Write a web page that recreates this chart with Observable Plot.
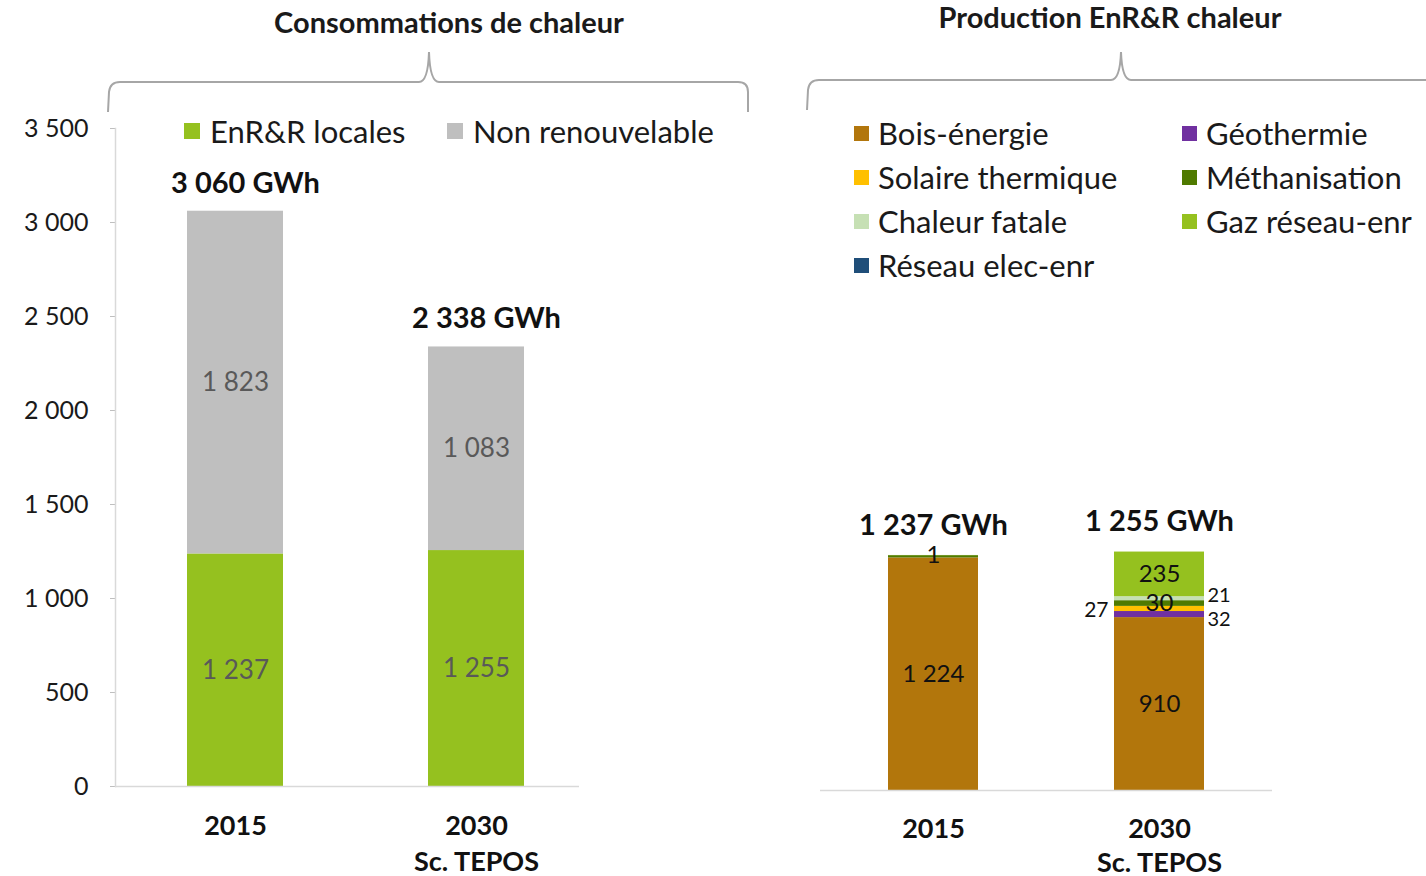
<!DOCTYPE html>
<html><head><meta charset="utf-8">
<script src="https://cdn.jsdelivr.net/npm/d3@7"></script>
<script src="https://cdn.jsdelivr.net/npm/@observablehq/plot@0.6"></script>
<style>
body{margin:0;background:#fff;width:1426px;height:876px;overflow:hidden;position:relative;font-family:Lato,"Open Sans",sans-serif;color:#1a1a1a}
.abs{position:absolute}
.title{font-weight:bold;font-size:29px;white-space:nowrap;transform:translateX(-50%)}
.leg{position:absolute;font-size:31px;white-space:nowrap;display:flex;align-items:center;line-height:34px}
.sw{display:inline-block;width:16px;height:16px;margin-right:10px}
</style></head><body>
<div id="left" class="abs" style="left:0;top:0"></div>
<div id="right" class="abs" style="left:800px;top:0"></div>
<svg class="abs" style="left:0;top:0" width="1426" height="876">
  <path d="M108,112 L109,92 Q110,82 120,82 L419,82 Q428,82 429,52 Q430,82 439,82 L738,82 Q748,82 748,92 L748,112" fill="none" stroke="#a6a6a6" stroke-width="2"/>
  <path d="M807,110 L808,90 Q809,80 819,80 L1111,80 Q1120,80 1121,52 Q1122,80 1131,80 L1430,80" fill="none" stroke="#a6a6a6" stroke-width="2"/>
</svg>
<div class="abs title" style="left:449px;top:4px">Consommations de chaleur</div>
<div class="abs title" style="left:1110px;top:-1px">Production EnR&amp;R chaleur</div>
<div id="legL"></div>
<div id="legR"></div>
<script>
// ---- data ----
const years = ["2015", "2030"];
const yearLabels = ["2015", "2030\nSc. TEPOS"];
const consoSeries = ["EnR&R locales", "Non renouvelable"];
const consoColors = ["#95c11f", "#bfbfbf"];
const consoEnr = [1237, 1255];
const consoNonRen = [1823, 1083];
const consoTotals = [3060, 2338];
const yTicks = [0, 500, 1000, 1500, 2000, 2500, 3000, 3500];

const prodSeries = ["Bois-énergie", "Géothermie", "Solaire thermique", "Méthanisation", "Chaleur fatale", "Gaz réseau-enr", "Réseau elec-enr"];
const prodColors = ["#b2760c", "#7030a0", "#ffc000", "#4f7a00", "#c6e0b4", "#95c11f", "#1f4e79"];
const prod2015 = [1224, 0, 0, 12, 0, 1, 0];
const prod2030 = [910, 32, 27, 30, 21, 235, 0];
const prodTotals = [1237, 1255];
// label placement per segment: c = inside, l = left of bar, r = right of bar (rb = right, nudged down), "" = none
const prodLabelPos2015 = ["c", "", "", "", "", "c", ""];
const prodLabelPos2030 = ["c", "rb", "l", "c", "r", "c", ""];
// legend order (two columns, Excel style)
const prodLegendCols = [["Bois-énergie", "Solaire thermique", "Chaleur fatale", "Réseau elec-enr"], ["Géothermie", "Méthanisation", "Gaz réseau-enr"]];

const loc = d3.formatLocale({decimal: ",", thousands: " ", grouping: [3], currency: ["", " €"]});
const fmt = loc.format(",d");
const FONT = "Lato, 'Open Sans', sans-serif";

// ---- left chart ----
const consoData = years.flatMap((yr, i) => [
  {year: yr, series: consoSeries[0], value: consoEnr[i]},
  {year: yr, series: consoSeries[1], value: consoNonRen[i]}
]);
const consoTot = years.map((yr, i) => ({year: yr, total: consoTotals[i]}));

const left = Plot.plot({
  width: 600, height: 876,
  marginTop: 128, marginBottom: 90, marginLeft: 115, marginRight: 21,
  style: {fontFamily: FONT, background: "transparent", overflow: "visible"},
  x: {domain: years, paddingInner: 0.6, paddingOuter: 0.2587, align: 0.572, axis: null},
  y: {domain: [0, 3500], axis: null},
  color: {domain: consoSeries, range: consoColors},
  marks: [
    Plot.axisY({ticks: yTicks, tickFormat: fmt, tickSize: 5, tickPadding: 22, fontSize: 25, stroke: "#bfbfbf", fill: "#1a1a1a", label: null}),
    Plot.frame({anchor: "left", stroke: "#d9d9d9", strokeWidth: 1.5}),
    Plot.barY(consoData, {x: "year", y: "value", fill: "series"}),
    Plot.ruleY([0], {stroke: "#d9d9d9", strokeWidth: 1.5}),
    Plot.text(consoData, Plot.stackY({x: "year", y: "value", text: d => fmt(d.value), fill: "#595959", fontSize: 26})),
    Plot.text(consoTot, {x: "year", y: "total", text: d => fmt(d.total) + " GWh", dy: -28, dx: 10, fontWeight: "bold", fontSize: 29, fill: "#111"}),
    Plot.axisX({domain: years, tickFormat: (d) => yearLabels[years.indexOf(d)], tickSize: 0, tickPadding: 24, fontSize: 27, fontWeight: "bold", lineHeight: 1.3, fill: "#111", label: null})
  ]
});
document.getElementById("left").append(left);

// ---- right chart ----
const prodData = [];
prodSeries.forEach((s, j) => {
  prodData.push({year: years[0], series: s, value: prod2015[j], pos: prodLabelPos2015[j]});
  prodData.push({year: years[1], series: s, value: prod2030[j], pos: prodLabelPos2030[j]});
});
const prodTot = years.map((yr, i) => ({year: yr, total: prodTotals[i]}));
const stackOpts = (pos) => ({x: "year", y: "value", text: d => d.pos === pos ? fmt(d.value) : ""});

const right = Plot.plot({
  width: 626, height: 876,
  marginTop: 125, marginBottom: 86, marginLeft: 20, marginRight: 154,
  style: {fontFamily: FONT, background: "transparent", overflow: "visible"},
  x: {domain: years, paddingInner: 0.6, paddingOuter: 0.3, axis: null},
  y: {domain: [0, 3500], axis: null},
  color: {domain: prodSeries, range: prodColors},
  marks: [
    Plot.barY(prodData, {x: "year", y: "value", fill: "series"}),
    Plot.ruleY([0], {stroke: "#d9d9d9", strokeWidth: 1.5}),
    Plot.text(prodData, Plot.stackY({...stackOpts("c"), fill: "#111", fontSize: 24})),
    Plot.text(prodData, Plot.stackY({...stackOpts("l"), fill: "#111", fontSize: 21, textAnchor: "end", dx: -51, dy: 1})),
    Plot.text(prodData, Plot.stackY({...stackOpts("r"), fill: "#111", fontSize: 20, textAnchor: "start", dx: 48, dy: -3})),
    Plot.text(prodData, Plot.stackY({...stackOpts("rb"), fill: "#111", fontSize: 20, textAnchor: "start", dx: 48, dy: 5})),
    Plot.text(prodTot, {x: "year", y: "total", text: d => fmt(d.total) + " GWh", dy: -30, dx: 0, fontWeight: "bold", fontSize: 29, fill: "#111"}),
    Plot.axisX({domain: years, tickFormat: (d) => yearLabels[years.indexOf(d)], tickSize: 0, tickPadding: 24, fontSize: 27, fontWeight: "bold", lineHeight: 1.25, fill: "#111", label: null})
  ]
});
document.getElementById("right").append(right);

// ---- legends ----
const legL = document.getElementById("legL");
[[184, consoSeries[0], consoColors[0]], [447, consoSeries[1], consoColors[1]]].forEach(([x, s, c]) => {
  const d = document.createElement("div");
  d.className = "leg"; d.style.left = x + "px"; d.style.top = "114px";
  d.innerHTML = `<span class="sw" style="background:${c}"></span>${s.replace("&", "&amp;")}`;
  legL.append(d);
});
const legR = document.getElementById("legR");
const colX = [854, 1182];
prodLegendCols.forEach((col, ci) => col.forEach((s, ri) => {
  const d = document.createElement("div");
  d.className = "leg"; d.style.left = colX[ci] + "px"; d.style.top = (116 + ri * 44) + "px";
  d.innerHTML = `<span class="sw" style="background:${prodColors[prodSeries.indexOf(s)]};width:15px;height:15px;margin-right:9px"></span>${s}`;
  legR.append(d);
}));
</script>
</body></html>
